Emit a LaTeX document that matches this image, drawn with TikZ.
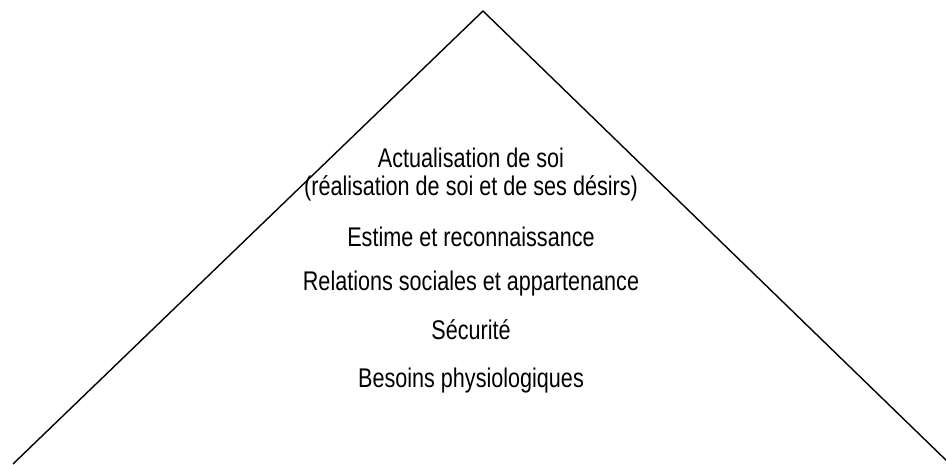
\documentclass[tikz,border=0pt]{standalone}
\usepackage{fontspec}
\setmainfont{Liberation Sans}[FakeStretch=0.8]
\begin{document}
\begin{tikzpicture}[x=1pt, y=1pt,
      level/.style={font=\fontsize{27}{31}\selectfont, inner sep=0pt,
        anchor=base},
      side/.style={line width=1.4pt, line join=miter}]
      \useasboundingbox (0,0) rectangle (946,464);

      \coordinate (apex)  at (483,453);
      \coordinate (baseL) at (13,0);
      \coordinate (baseR) at (950,0);
      \draw[side] (baseL) -- (apex) -- (baseR);

      \foreach \y/\al/\lab in {%
        296/actual/{Actualisation de soi},%
        268/realis/{(réalisation de soi et de ses désirs)},%
        217/estime/{Estime et reconnaissance},%
        173/social/{Relations sociales et appartenance},%
        124/secur/{Sécurité},%
        77/physio/{Besoins physiologiques}%
      }{ \node[level] (\al) at (471,\y) {\lab}; }
    \end{tikzpicture}
\end{document}
